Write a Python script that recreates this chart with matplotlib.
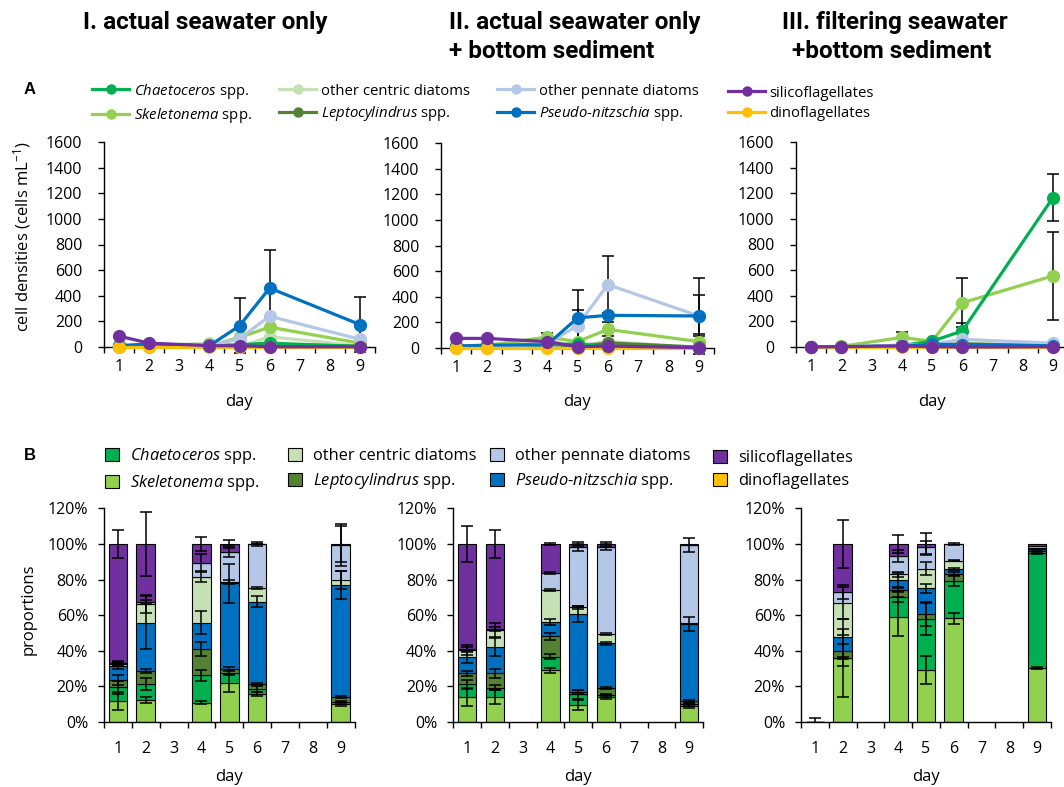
import matplotlib
import numpy as np

matplotlib.use("Agg")
import matplotlib.pyplot as plt
from matplotlib.lines import Line2D
from matplotlib.patches import Patch

nan = np.nan

# === DATA ===
days = [1, 2, 4, 5, 6, 9]
day_labels = ["1", "2", "3", "4", "5", "6", "7", "8", "9"]

# legend order
taxa = [r"$\it{Chaetoceros}$ spp.", r"$\it{Skeletonema}$ spp.", "other centric diatoms",
        r"$\it{Leptocylindrus}$ spp.", "other pennate diatoms",
        r"$\it{Pseudo}$-$\it{nitzschia}$ spp.", "silicoflagellates", "dinoflagellates"]
colors = ["#00B050", "#92D050", "#C5E0B4", "#548235", "#B4C7E7", "#0070C0", "#7030A0", "#FFC000"]

panel_titles = [["I. actual seawater only"],
                ["II. actual seawater only", "+ bottom sediment"],
                ["III. filtering seawater", "+bottom sediment"]]

# cell densities (cells mL-1), rows in legend order, columns = days
dens_I = [[9, 9, 12, 18, 30, 4],
          [15, 12, 8, 75, 155, 30],
          [2, 10, 30, 2, 80, 8],
          [6, 8, 12, 6, 20, 7],
          [1, 1, 8, 65, 240, 60],
          [9, 25, 10, 165, 460, 175],
          [85, 30, 10, 10, 2, 2],
          [0, 0, 0, 0, 0, 0]]
dens_I_err = [[nan] * 6, [nan] * 6, [nan] * 6, [nan] * 6, [nan] * 6,
              [nan, nan, nan, 215, 300, 215], [nan] * 6, [nan] * 6]

dens_II = [[9, 8, 22, 33, 8, 5],
           [18, 20, 85, 50, 145, 50],
           [5, 14, 55, 20, 50, 3],
           [8, 12, 32, 10, 40, 7],
           [2, 2, 30, 175, 495, 250],
           [15, 22, 25, 235, 255, 250],
           [75, 75, 50, 10, 15, 3],
           [0, 0, 0, 0, 0, 0]]
dens_II_err = [[nan] * 6, [nan, nan, 30, nan, 55, 60], [nan] * 6, [nan] * 6,
               [nan, nan, nan, 120, 225, 300], [nan, nan, nan, 215, nan, 160],
               [nan] * 6, [nan] * 6]

dens_III = [[0, 0, 12, 45, 125, 1165],
            [0, 5, 75, 45, 345, 555],
            [0, 3, 5, 18, 30, 15],
            [0, 1, 5, 4, 25, 8],
            [0, 1, 15, 20, 60, 30],
            [0, 1, 7, 22, 18, 10],
            [0, 3, 8, 3, 0, 2],
            [0, 0, 0, 0, 0, 0]]
dens_III_err = [[nan, nan, nan, nan, 60, 185], [nan, nan, 45, nan, 190, 345],
                [nan] * 6, [nan] * 6, [nan] * 6, [nan] * 6, [nan] * 6, [nan] * 6]

# proportions (%), rows in legend order
prop_I = [[7.5, 8.8, 15.3, 5.7, 2.8, 1.3],
          [12, 12.4, 10.9, 22, 15.7, 10.1],
          [0.8, 10.7, 25.8, 0.6, 7.9, 2.8],
          [4.1, 7.3, 14.6, 2.1, 2.7, 2.8],
          [0.6, 0.9, 7.9, 17.2, 24.5, 19.6],
          [8, 27.3, 15, 48.1, 46.4, 62.8],
          [67, 32.6, 10.5, 4.3, 0, 0.6],
          [0, 0, 0, 0, 0, 0]]
prop_I_err = [[3.5, 3.5, 3, 1.5, 1.5, 0.5],
              [5, 1.5, 1, 5, 1, 1],
              [1, 5, 3, 1, 0.5, 5],
              [3, 1, 4, 1, 0.5, 0.5],
              [1, 1, 5, 3, 1, 12],
              [2, 15, 6.5, 11, 3, 8],
              [8, 18, 4, 2, 0, 10],
              [nan] * 6]

prop_II = [[7.3, 5.3, 7.7, 6.2, 0.8, 1],
           [14, 14, 29, 9.5, 14.2, 9],
           [4.1, 9.7, 18.1, 3.9, 5.2, 0.9],
           [6, 8, 11.4, 1, 3.9, 1.8],
           [0.6, 0.5, 9.2, 33.7, 48.9, 43.8],
           [9, 14.7, 8.1, 43.8, 25.3, 43.1],
           [59, 47.8, 16.5, 1.9, 1.7, 0.4],
           [0, 0, 0, 0, 0, 0]]
prop_II_err = [[2.5, 1.5, 1.5, 2.5, 0.5, 0.5],
               [5, 4, 1.5, 3, 1, 1],
               [3, 4, 0.5, 1, 0.5, nan],
               [1.5, 2.5, 2, 1, 0.5, 0.5],
               [1, 1, 0.5, 2, 1.5, 4],
               [3, 5, 1.5, 4.5, 1, 4],
               [10, 8, 0.5, 1, 1, nan],
               [nan] * 6]

prop_III = [[0, 0, 11.2, 28.8, 21.2, 64.5],
            [0, 35.8, 59.2, 29.2, 58.2, 30.5],
            [0, 19.1, 3.2, 11, 4.8, 0.8],
            [0, 4.3, 3.8, 2.7, 3.9, 0.9],
            [0, 6, 10.3, 12, 9.4, 1.2],
            [0, 7.8, 5.6, 14.4, 2.5, 1.1],
            [0, 27, 6.7, 1.9, 0, 1],
            [0, 0, 0, 0, 0, 0]]
prop_III_err = [[nan, 0.5, 3, 9, 3, 0.6],
                [2, 22, 11, 7.7, 3, 0.5],
                [nan, 9, 1.5, 3.6, 0.3, nan],
                [nan, 8.5, 1, 6.5, 1, nan],
                [nan, 4, 3.5, 3.6, 0.3, nan],
                [nan, 4.2, 4, 2.4, 0.5, 0.4],
                [nan, 13.5, 5, 6.4, nan, nan],
                [nan] * 6]

line_order = [2, 3, 1, 0, 4, 5, 7, 6]
stack_order = [1, 0, 3, 5, 2, 4, 7, 6]

# === STYLE ===
plt.rcParams["font.family"] = ["Open Sans", "DejaVu Sans"]
plt.rcParams["mathtext.fontset"] = "custom"
plt.rcParams["mathtext.rm"] = "Open Sans"
plt.rcParams["mathtext.it"] = "Open Sans:italic"
plt.rcParams["axes.linewidth"] = 1.0

W, H = 1064, 787
fig = plt.figure(figsize=(W / 100, H / 100), dpi=100)


def add_px_axes(l, r, t, b):
    return fig.add_axes([l / W, 1 - b / H, (r - l) / W, (b - t) / H])


def fx(x):
    return x / W


def fy(y):
    return 1 - y / H


def style_x(ax, pad):
    ax.set_xlim(0.5, 9.5)
    ax.set_xticks(np.arange(0.5, 10, 1))
    ax.set_xticklabels([])
    ax.set_xticks(range(1, 10), minor=True)
    ax.set_xticklabels(day_labels, minor=True)
    ax.tick_params(axis="x", which="major", direction="out", length=4.5, width=1)
    ax.tick_params(axis="x", which="minor", length=0, pad=pad, labelsize=11.5)
    for s in ["top", "right"]:
        ax.spines[s].set_visible(False)


top_boxes = [(104, 375, 142, 347), (441, 714, 143, 348), (796, 1068, 142, 347)]
bot_boxes = [(104, 354.6, 508.4, 722), (453.3, 703, 508.4, 722), (801, 1051, 508.4, 722)]
dens_sets = [(dens_I, dens_I_err), (dens_II, dens_II_err), (dens_III, dens_III_err)]
prop_sets = [(prop_I, prop_I_err), (prop_II, prop_II_err), (prop_III, prop_III_err)]

for k, (box, (dens, derr)) in enumerate(zip(top_boxes, dens_sets)):
    ax = add_px_axes(*box)
    for i in line_order:
        ax.errorbar(days, dens[i], yerr=derr[i], fmt="none", ecolor="black",
                    elinewidth=1.1, capsize=4.5, capthick=1.1, zorder=2, clip_on=False)
    for i in line_order:
        ax.plot(days, dens[i], color=colors[i], lw=2.3, marker="o", ms=9.5,
                mew=0, zorder=3, clip_on=False)
    ax.set_ylim(0, 1600)
    ax.set_yticks(range(0, 1601, 200))
    ax.tick_params(axis="y", direction="out", length=4.5, width=1, pad=11, labelsize=11.5)
    style_x(ax, 8.5)
    cx = (box[0] + box[1]) / 2
    fig.text(fx(cx), fy(402), "day", ha="center", va="center", fontsize=12)

for k, (box, (prop, perr)) in enumerate(zip(bot_boxes, prop_sets)):
    ax = add_px_axes(*box)
    bottom = np.zeros(len(days))
    for i in stack_order:
        vals = np.array(prop[i]) / 100
        ax.bar(days, vals, bottom=bottom, width=0.67, color=colors[i],
               edgecolor="black", linewidth=0.8, zorder=2)
        bottom = bottom + vals
        ax.errorbar(days, bottom, yerr=np.array(perr[i]) / 100, fmt="none",
                    ecolor="black", elinewidth=1.1, capsize=4.5, capthick=1.1, zorder=3)
    ax.set_ylim(0, 1.2)
    ax.set_yticks(np.arange(0, 1.21, 0.2))
    ax.set_yticklabels([f"{v}%" for v in range(0, 121, 20)])
    ax.tick_params(axis="y", direction="out", length=4.5, width=1, pad=7, labelsize=11.5)
    style_x(ax, 14)
    cx = (box[0] + box[1]) / 2
    fig.text(fx(cx), fy(777), "day", ha="center", va="center", fontsize=12)

# axis labels
fig.text(fx(22), fy(237), r"cell densities (cells mL$^{\mathregular{-1}}$)", rotation=90,
         ha="center", va="center", fontsize=12)
fig.text(fx(29), fy(609), "proportions", rotation=90, ha="center", va="center", fontsize=12)

# panel titles
title_x = [83, 449, 782]
for tx, lines in zip(title_x, panel_titles):
    for j, line in enumerate(lines):
        xo = tx + (10 if (j == 1 and tx == 782) else 0)
        fig.text(fx(xo), fy(22 + 29 * j), line, ha="left", va="center",
                 fontsize=17.5, fontweight="bold",
                 family=["Roboto", "DejaVu Sans"])

fig.text(fx(24), fy(89), "A", ha="left", va="center", fontsize=12, fontweight="bold",
         family=["Liberation Sans", "DejaVu Sans"])
fig.text(fx(24), fy(456), "B", ha="left", va="center", fontsize=12, fontweight="bold",
         family=["Liberation Sans", "DejaVu Sans"])

# legends, one per column
a_cols = [92, 279, 497, 728]
b_cols = [105, 288, 490, 713]
for c in range(4):
    idx = [2 * c, 2 * c + 1]
    hl = [Line2D([], [], color=colors[i], lw=2.3, marker="o", ms=7.5, mew=0) for i in idx]
    fig.legend(hl, [taxa[i] for i in idx], loc="center left",
               bbox_to_anchor=(fx(a_cols[c]), fy(103.5)), frameon=False,
               borderpad=0, borderaxespad=0, handlelength=2.5, handletextpad=0.3,
               labelspacing=0.4, fontsize=10.7, numpoints=1)
    hp = [Patch(facecolor=colors[i], edgecolor="black", linewidth=0.8) for i in idx]
    fig.legend(hp, [taxa[i] for i in idx], loc="center left",
               bbox_to_anchor=(fx(b_cols[c]), fy(469.5)), frameon=False,
               borderpad=0, borderaxespad=0, handlelength=0.85, handleheight=0.85,
               handletextpad=0.7, labelspacing=0.4, fontsize=11.8)

plt.savefig("out.png", dpi=100)
print("Saved out.png")
